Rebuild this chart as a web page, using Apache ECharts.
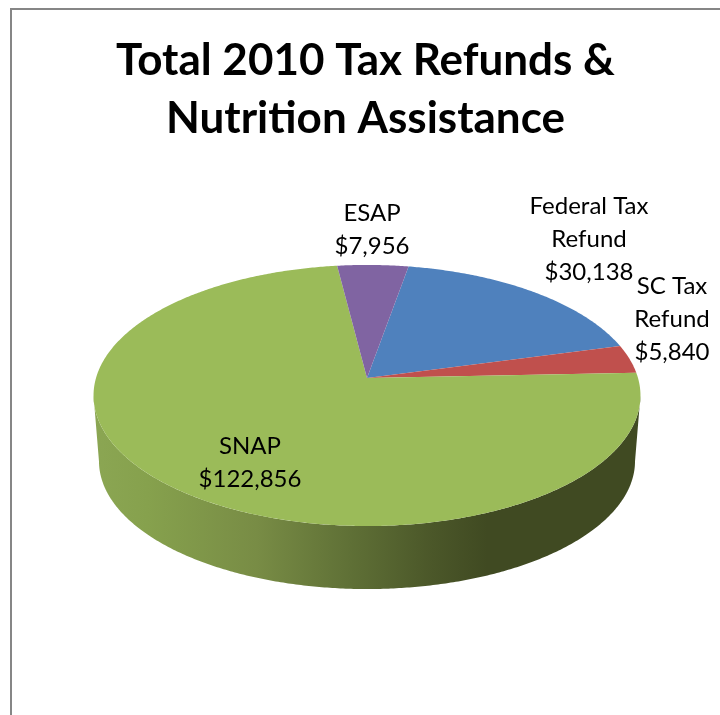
<!DOCTYPE html>
<html>
<head>
<meta charset="utf-8">
<style>html,body{margin:0;padding:0;background:#fff}#c{width:720px;height:715px}</style>
<script src="https://cdn.jsdelivr.net/npm/echarts@6/dist/echarts.min.js"></script>
</head>
<body>
<div id="c"></div>
<script>
// Data (Excel order, clockwise from the first-slice angle)
var categories = ['Federal Tax Refund', 'SC Tax Refund', 'SNAP', 'ESAP'];
var amounts = [30138, 5840, 122856, 7956];
var labelLines = [['Federal Tax', 'Refund', '$30,138'], ['SC Tax', 'Refund', '$5,840'], ['SNAP', '$122,856'], ['ESAP', '$7,956']];

// Styling and layout
var sliceColors = ['#4f81bd', '#c0504d', '#9bbb59', '#8064a2'];
var labelCentres = [[589, 239], [672, 319], [250, 463], [372, 230]];
var firstSliceAngle = 10;
var top3d = {cx: 367, cy: 378, R: 271, S: 128.2, p: 0.134};
var bottom3d = {cx: 367, cy: 444, R: 265.6, S: 125.6, p: 0.134};
var total = amounts.reduce(function (a, b) { return a + b; }, 0);

function project(d, deg) {
  var t = deg * Math.PI / 180, u = Math.sin(t), v = -Math.cos(t), w = 1 - d.p * v;
  return [d.cx + d.R * u / w, d.cy + d.S * v / w];
}
function arc(d, a0, a1) {
  var pts = [], n = Math.max(2, Math.ceil(Math.abs(a1 - a0) * 2));
  for (var i = 0; i <= n; i++) pts.push(project(d, a0 + (a1 - a0) * i / n));
  return pts;
}
var extreme = 90 + Math.asin(top3d.p) * 180 / Math.PI;

var option = {
  animation: false,
  backgroundColor: '#ffffff',
  title: {
    text: 'Total 2010 Tax Refunds &\nNutrition Assistance',
    left: 360.5, top: 27, textAlign: 'center',
    textStyle: {fontFamily: 'Lato', fontWeight: 'bold', fontSize: 44, lineHeight: 58, color: '#000'}
  },
  graphic: [{
    type: 'polyline', silent: true,
    shape: {points: [[11, 715], [11, 9], [720, 9]]},
    style: {stroke: '#868686', lineWidth: 2, fill: null}
  }],
  series: [{
    // Rim of the disc
    type: 'custom', coordinateSystem: 'none', z: 1, silent: true,
    data: [0],
    renderItem: function () {
      var pts = arc(top3d, extreme, 360 - extreme).concat(arc(bottom3d, 360 - extreme, extreme));
      return {
        type: 'polygon', shape: {points: pts},
        style: {
          fill: {
            type: 'linear', global: true, x: 93, y: 0, x2: 640, y2: 0,
            colorStops: [
              {offset: 0, color: '#8ba653'}, {offset: 0.1, color: '#86a14d'},
              {offset: 0.3, color: '#788c45'}, {offset: 0.47, color: '#5f7036'},
              {offset: 0.62, color: '#4b5729'}, {offset: 0.72, color: '#404a22'},
              {offset: 1, color: '#404a22'}
            ]
          }
        }
      };
    }
  }, {
    // Slices of the top face
    type: 'custom', coordinateSystem: 'none', z: 2, silent: true,
    data: amounts.map(function (v, i) { return {value: [v, i], name: categories[i]}; }),
    renderItem: function (params, api) {
      var i = api.value(1), before = 0;
      for (var k = 0; k < i; k++) before += amounts[k];
      var a0 = firstSliceAngle + before / total * 360;
      var a1 = a0 + api.value(0) / total * 360;
      return {
        type: 'polygon',
        shape: {points: [[top3d.cx, top3d.cy]].concat(arc(top3d, a0, a1))},
        style: {fill: sliceColors[i]}
      };
    }
  }, {
    // Data labels, above every slice
    type: 'custom', coordinateSystem: 'none', z: 3, silent: true,
    data: amounts.map(function (v, i) { return [i]; }),
    renderItem: function (params, api) {
      var i = api.value(0);
      return {
        type: 'text',
        style: {
          x: labelCentres[i][0], y: labelCentres[i][1],
          text: labelLines[i].join('\n'),
          align: 'center', verticalAlign: 'middle',
          fontFamily: 'Lato', fontSize: 24, lineHeight: 33, fill: '#000'
        }
      };
    }
  }]
};
echarts.init(document.getElementById('c')).setOption(option);
</script>
</body>
</html>
